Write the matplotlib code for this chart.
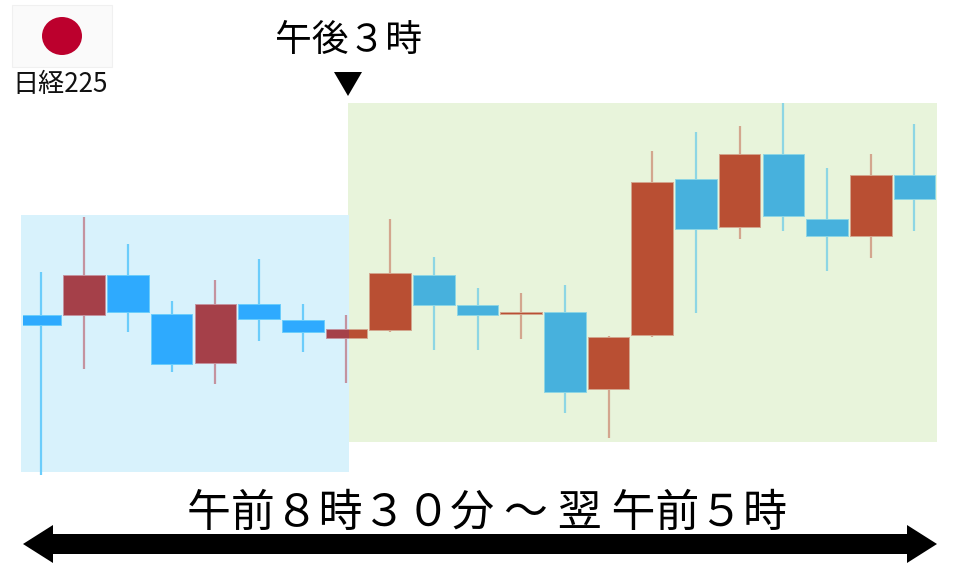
import matplotlib
matplotlib.use("Agg")
import matplotlib.pyplot as plt
from matplotlib.patches import Rectangle, Ellipse, Polygon

plt.rcParams['font.family'] = ['Noto Sans CJK JP', 'DejaVu Sans']

# Candle values on a scale whose unit is one picture pixel, measured up from the bottom edge
H = 567
high  = [295, 350.3, 322.7, 266, 286.7, 308, 262.7, 252, 347.7, 309.7, 278.7, 274, 281.7, 231.3, 416.3, 435.3, 440.7, 464, 398.7, 413, 442.7]
low   = [92, 197.7, 234.7, 195, 183, 225.7, 215, 183.7, 234.7, 217.3, 217.3, 227.7, 154, 129, 229.7, 253.7, 328, 336.3, 295.7, 308.7, 336.3]
open_ = [252, 252, 291.7, 252.7, 204.3, 263.3, 247, 229, 236.7, 291.7, 261.7, 252.7, 255.3, 177.7, 231.7, 388, 339.7, 412.7, 347.7, 330.7, 392]
close = [242, 292.3, 254.7, 202.7, 263.3, 248, 234.7, 237.7, 294, 262, 252, 254.7, 174.7, 229.7, 384.7, 338, 412.7, 351.3, 330.7, 392, 367.7]
times = list(range(21))

TOP_LABEL = "午後３時"
RANGE_LABEL = "午前８時３０分 ～ 翌 午前５時"
INDEX_LABEL = "日経225"

fig = plt.figure(figsize=(9.6, 5.67), dpi=100)
ax = fig.add_axes([0, 0, 1, 1])
ax.set_xlim(0, 960)
ax.set_ylim(0, H)
ax.axis('off')

# session panels
ax.add_patch(Rectangle((348, H - 442), 589, 339, fc='#e8f4db', ec='none', zorder=1))
ax.add_patch(Rectangle((21, H - 472), 328, 257, fc='#d8f2fc', ec='none', zorder=2))

left_clip = Rectangle((23, 0), 325.5, H, transform=ax.transData)
right_clip = Rectangle((348.5, 0), 612, H, transform=ax.transData)

x0, step, body_w = 40.6, 43.69, 41.6
styles = [
    (left_clip, '#a54049', '#c4939f', '#2eaafe', '#6bcdfb'),
    (right_clip, '#b94f33', '#d3a68e', '#47b1dd', '#8dd6e4'),
]
for clip, up_body, up_wick, dn_body, dn_wick in styles:
    for i, t in enumerate(times):
        x = x0 + step * t
        up = close[i] > open_[i]
        wick = ax.vlines(x, low[i], high[i], colors=up_wick if up else dn_wick, lw=1.6, zorder=3)
        wick.set_clip_path(clip)
        bottom = min(open_[i], close[i])
        height = abs(open_[i] - close[i])
        body = Rectangle((x - body_w / 2, bottom), body_w, height,
                         fc=up_body if up else dn_body,
                         ec=up_wick if up else dn_wick, lw=0.7, zorder=4)
        ax.add_patch(body)
        body.set_clip_path(clip)

# flag
ax.add_patch(Rectangle((12, H - 67), 100, 62, fc='#fafafa', ec='#f0f0f0', lw=0.8, zorder=3))
ax.add_patch(Ellipse((62, H - 36), 40, 38, fc='#bc002d', ec='none', zorder=4))

ax.text(60, H - 85, INDEX_LABEL, fontsize=18.8, ha='center', va='center', color='#111111')
ax.text(348.5, H - 40, TOP_LABEL, fontsize=26.5, ha='center', va='center', color='black')
ax.text(487, H - 513, RANGE_LABEL, fontsize=31.6, ha='center', va='center', color='black')

# marker above the afternoon panel
ax.add_patch(Polygon([(334, H - 72), (362, H - 72), (348, H - 96)], fc='black', ec='none', zorder=5))

# double-headed span arrow
ax.add_patch(Polygon([(23, H - 544), (53, H - 525), (53, H - 534), (907, H - 534), (907, H - 525),
                      (937, H - 544), (907, H - 563), (907, H - 554), (53, H - 554), (53, H - 563)],
                     fc='black', ec='none', zorder=5))

fig.savefig('out.png', dpi=100)
